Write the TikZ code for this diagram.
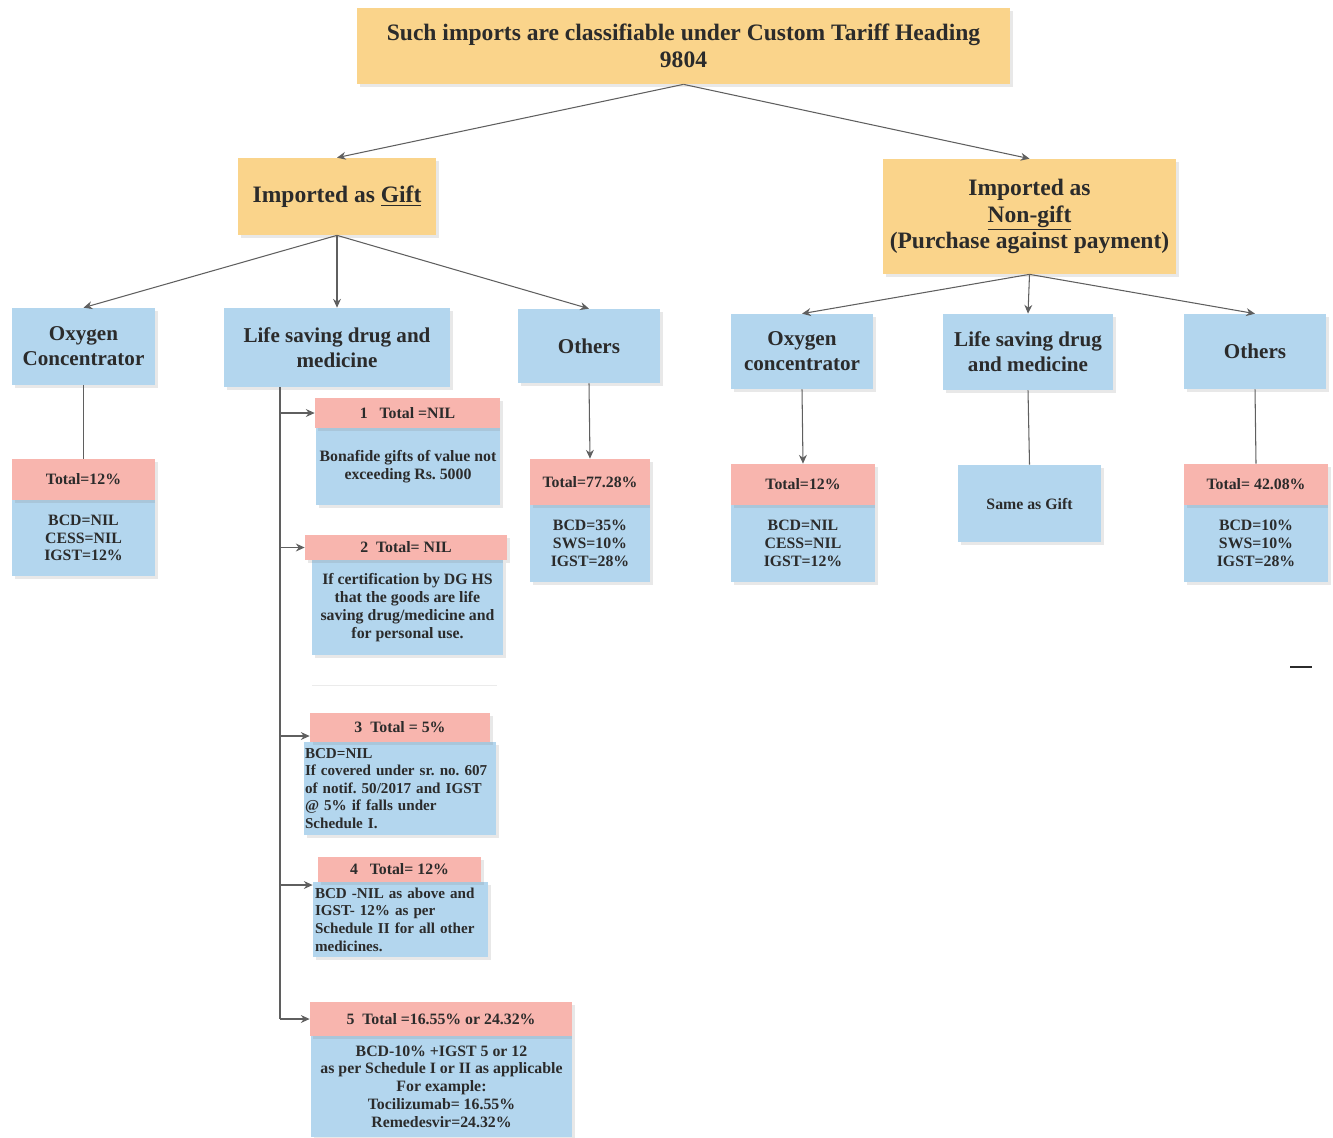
\documentclass[tikz,border=0pt]{standalone}
\usepackage{fontspec}
\setmainfont{Liberation Serif}
\usetikzlibrary{
    arrows.meta,
    positioning,
    shadows,
}

\definecolor{tariffgold}{HTML}{FAD48B}
\definecolor{dutyblue}{HTML}{B3D6EE}
\definecolor{dutypink}{HTML}{F8B5AE}
\definecolor{inkgrey}{HTML}{2B2B2B}
\definecolor{wiregrey}{HTML}{5F5F5F}

\newcommand\toptxt{\fontsize{13.4}{15.3}\selectfont\bfseries}
\newcommand\midtxt{\fontsize{12}{14.2}\selectfont\bfseries}
\newcommand\smalltxt{\fontsize{9}{10.1}\selectfont\bfseries\frenchspacing}
\newcommand\notetxt{\fontsize{8.6}{10}\selectfont\bfseries\frenchspacing}

\begin{document}
\begin{tikzpicture}[x=0.2mm,y=-0.2mm,
    sz/.style 2 args={minimum width=#1*0.2mm, minimum height=#2*0.2mm},
    box/.style={inner sep=0pt, align=center, text=inkgrey,
      drop shadow={opacity=0.18, shadow xshift=0.5mm, shadow yshift=-0.5mm}},
    goldbox/.style={box, fill=tariffgold, font=\toptxt},
    bluebox/.style={box, fill=dutyblue, font=\midtxt},
    bodybox/.style={box, fill=dutyblue, font=\smalltxt},
    headbox/.style={box, fill=dutypink, font=\smalltxt},
    lefttext/.style={align=left, text width=#1*0.2mm, font=\notetxt},
    wire/.style={draw=wiregrey, line width=0.6pt},
    arr/.style={wire, -{Stealth[length=5pt,width=4.5pt]}},
  ]
  \useasboundingbox (0,0) rectangle (1333,1137);

  % heading
  \node[goldbox, sz={653}{76}] (head) at (683.5,46)
    {Such imports are classifiable under Custom Tariff Heading\\9804};
  \node[goldbox, sz={198}{77}] (gift) at (337,196.5)
    {Imported as \underline{Gift}};
  \node[goldbox, sz={293}{115}] (nongift) at (1029.5,216.5)
    {Imported as\\\underline{Non-gift}\\(Purchase against payment)};

  % gift side
  \node[bluebox, sz={143}{77}] (goxy) at (83.5,346.5) {Oxygen\\Concentrator};
  \node[bluebox, sz={226}{79}] (glife) at (337,347.5) {Life saving drug and\\medicine};
  \node[bluebox, sz={142}{74}] (goth) at (589,346) {Others};

  \node[bodybox, sz={143}{76}] (goxyb) at (83.5,538) {BCD=NIL\\CESS=NIL\\IGST=12\%};
  \node[headbox, sz={143}{41}] (goxyh) at (83.5,479.5) {Total=12\%};
  \node[bodybox, sz={120}{77}] (gothb) at (590,543.5) {BCD=35\%\\SWS=10\%\\IGST=28\%};
  \node[headbox, sz={120}{46}] (gothh) at (590,482) {Total=77.28\%};

  % life saving drug, cases 1 to 5
  \node[bodybox, sz={184}{77}] (c1b) at (408,466.5)
    {Bonafide gifts of value not\\exceeding Rs. 5000};
  \node[headbox, sz={185}{30}] (c1h) at (407.5,413) {1~~~Total =NIL};
  \node[bodybox, sz={191}{95}] (c2b) at (407.5,607.5)
    {If certification by DG HS\\that the goods are life\\saving drug/medicine and\\for personal use.};
  \node[headbox, sz={202}{25}] (c2h) at (406,547.5) {2~~Total= NIL};
  \node[bodybox, sz={192}{93}, lefttext=190] (c3b) at (400,788.5)
    {BCD=NIL\\If covered under sr. no. 607\\of notif. 50/2017 and IGST\\@ 5\% if falls under\\Schedule I.};
  \node[headbox, sz={180}{29}] (c3h) at (400,727.5) {3~~Total = 5\%};
  \node[bodybox, sz={175}{75}, lefttext=171] (c4b) at (400.5,919.5)
    {BCD -NIL as above and\\IGST- 12\% as per\\Schedule II for all other\\medicines.};
  \node[headbox, sz={163}{25}] (c4h) at (399.5,869.5) {4~~~Total= 12\%};
  \node[bodybox, sz={261}{101}] (c5b) at (441.5,1086.5)
    {BCD-10\% +IGST 5 or 12\\as per Schedule I or II as applicable\\For example:\\Tocilizumab= 16.55\%\\Remedesvir=24.32\%};
  \node[headbox, sz={262}{34}] (c5h) at (441,1019) {5~~Total =16.55\% or 24.32\%};

  % non-gift side
  \node[bluebox, sz={142}{75}] (noxy) at (802,351.5) {Oxygen\\concentrator};
  \node[bluebox, sz={170}{76}] (nlife) at (1028,352) {Life saving drug\\and medicine};
  \node[bluebox, sz={142}{75}] (noth) at (1255,351.5) {Others};

  \node[bodybox, sz={144}{77}] (noxyb) at (803,543.5) {BCD=NIL\\CESS=NIL\\IGST=12\%};
  \node[headbox, sz={144}{41}] (noxyh) at (803,484.5) {Total=12\%};
  \node[bodybox, sz={143}{77}] (nsame) at (1029.5,503.5) {Same as Gift};
  \node[bodybox, sz={144}{77}] (nothb) at (1256,543.5) {BCD=10\%\\SWS=10\%\\IGST=28\%};
  \node[headbox, sz={144}{41}] (nothh) at (1256,484.5) {Total= 42.08\%};

  % connectors
  \draw[arr] (head.south) -- (gift.north);
  \draw[arr] (head.south) -- (nongift.north);
  \foreach \kid in {goxy,glife,goth}
    \draw[arr] (gift.south) -- (\kid.north);
  \foreach \kid in {noxy,nlife,noth}
    \draw[arr] (nongift.south) -- (\kid.north);

  \draw[wire] (goxy.south) -- (goxyh.north);
  \draw[arr] (goth.south) -- (gothh.north);
  \draw[arr] (noxy.south) -- (noxyh.north);
  \draw[wire] (nlife.south) -- (nsame.north);
  \draw[wire] (noth.south) -- (nothh.north);

  \coordinate (spine) at (280,1019);
  \draw[wire] (glife.south -| spine) -- (spine);
  \draw[arr] (spine |- c1h.west) -- (c1h.west);
  \draw[arr] (spine |- c2h.west) -- (c2h.west);
  \draw[arr] (spine |- 0,736) -- (c3h.west |- 0,736);
  \draw[arr] (spine |- 0,885) -- (c4b.west |- 0,885);
  \draw[arr] (spine) -- (c5h.west);

  % stray marks
  \draw[black!8, line width=0.5pt] (312,685) -- (497,685);
  \draw[inkgrey, line width=0.6pt] (1290,667) -- (1312,667);
\end{tikzpicture}
\end{document}
